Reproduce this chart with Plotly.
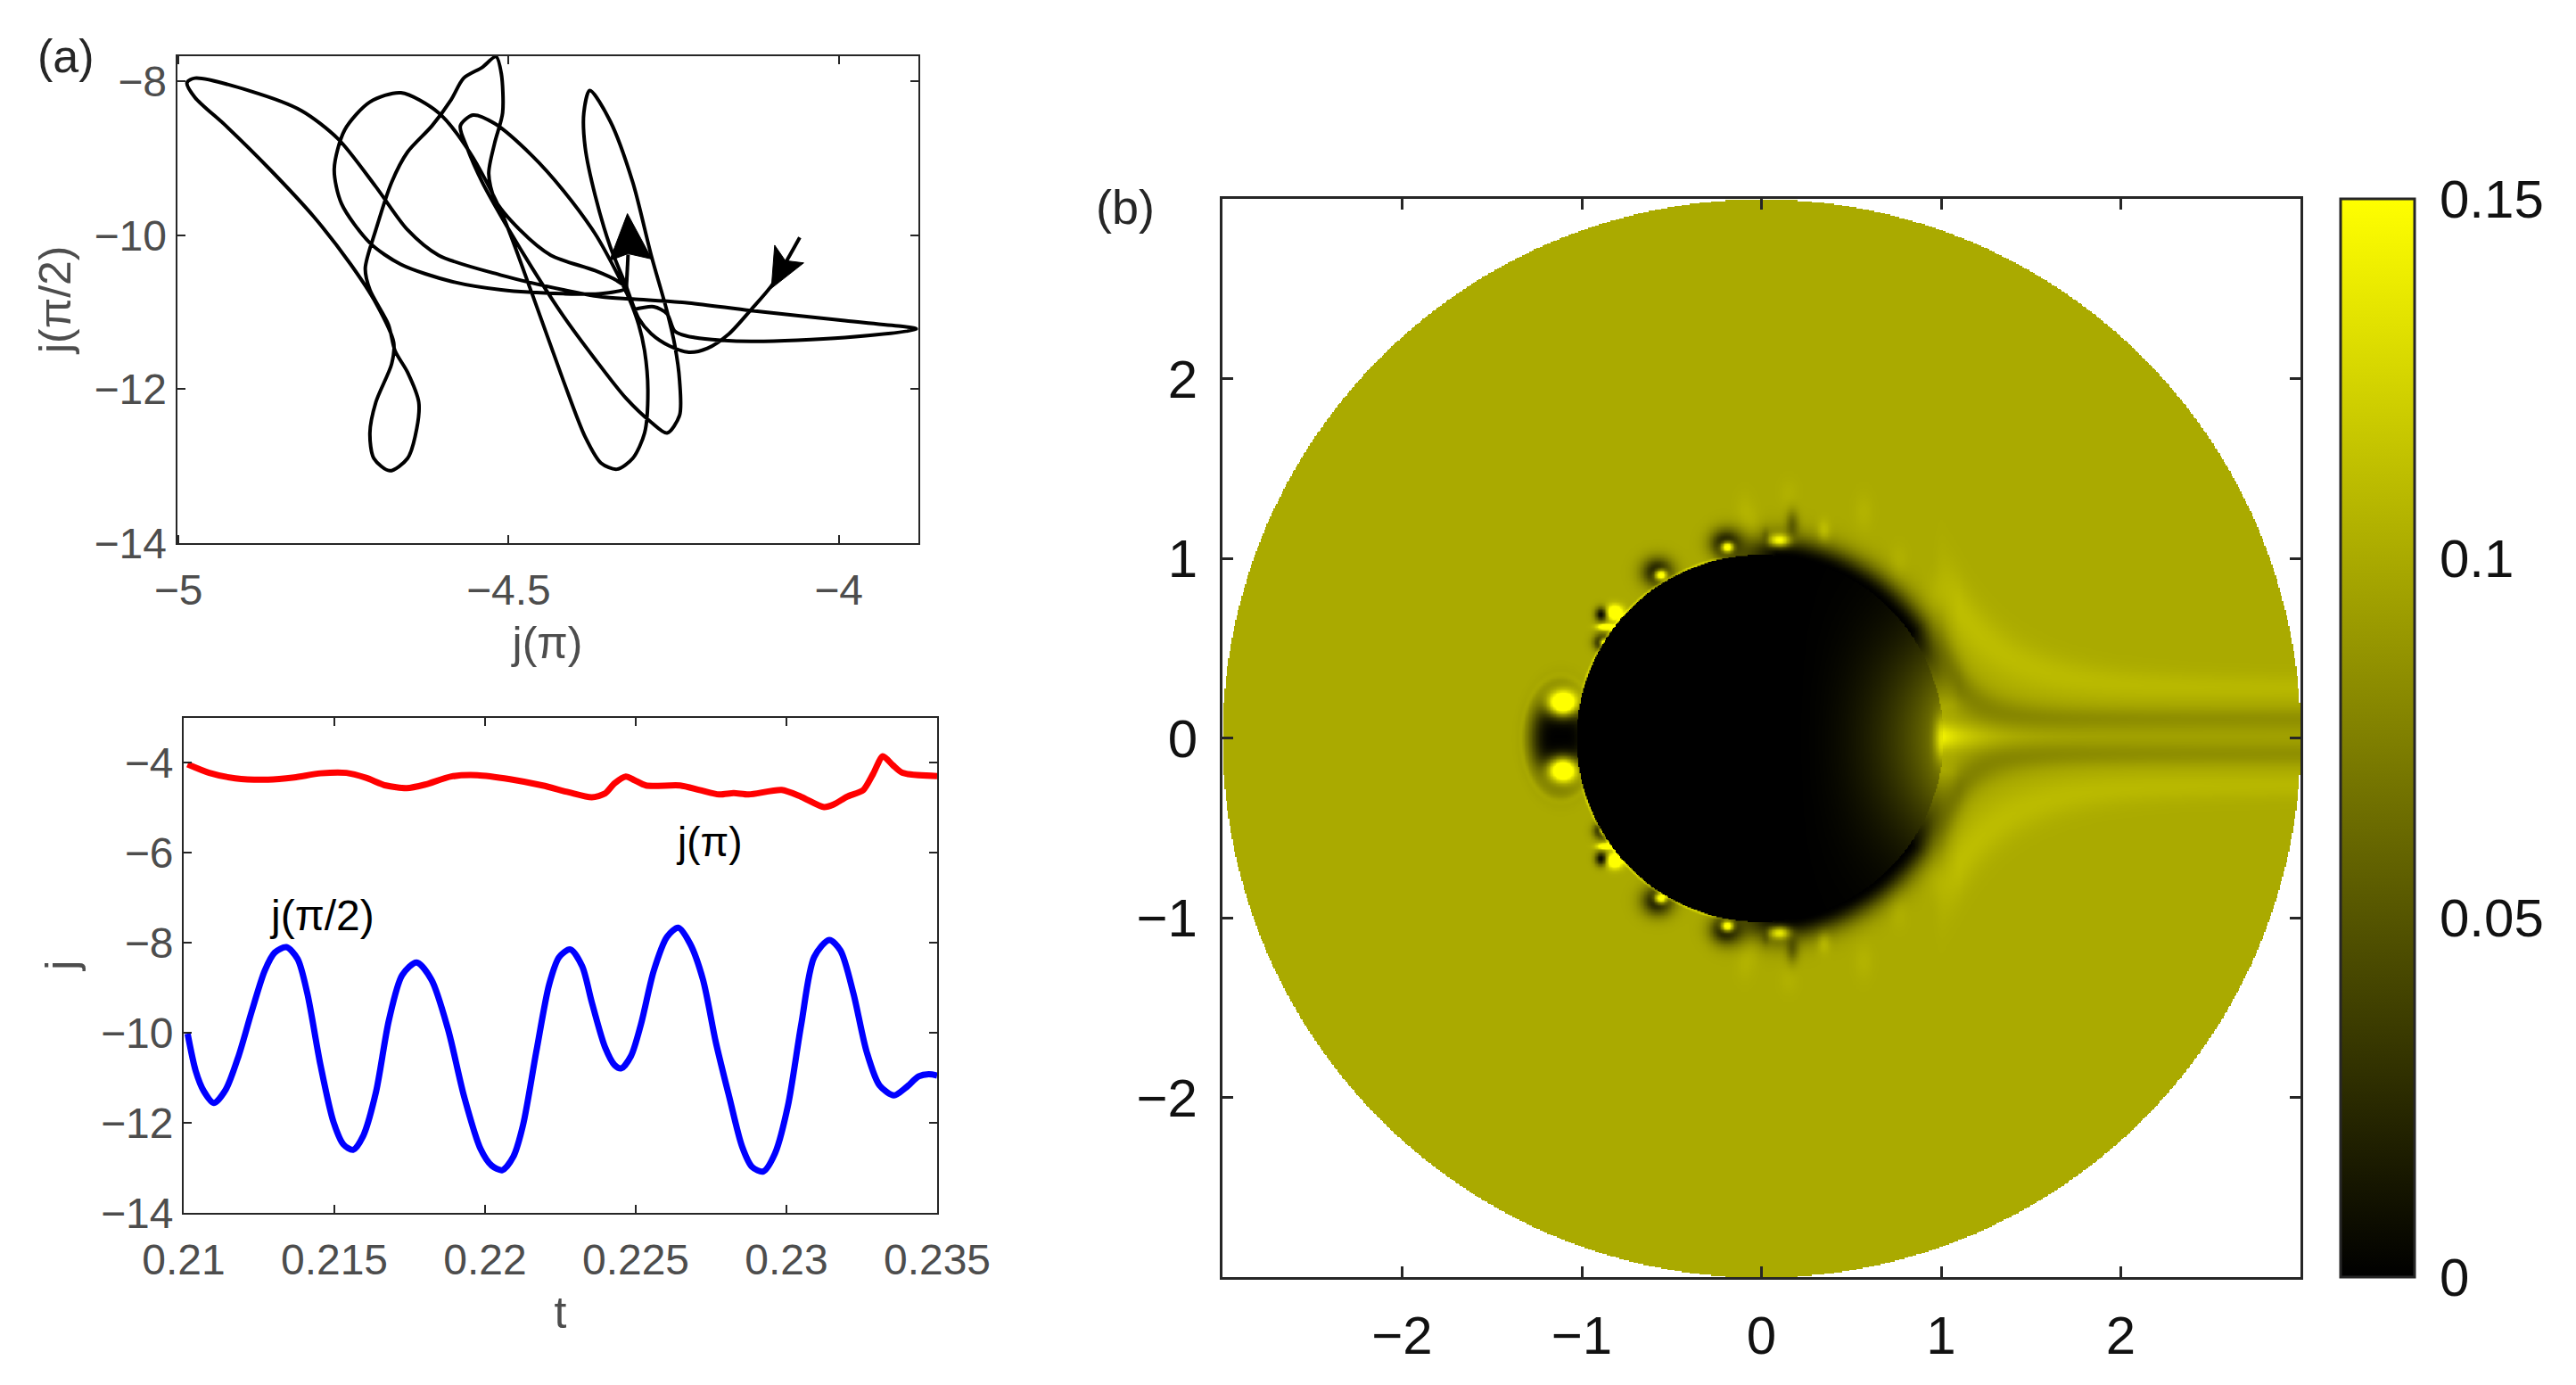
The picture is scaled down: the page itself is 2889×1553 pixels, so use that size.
import numpy as np
import plotly.graph_objects as go

W, H = 2889, 1553

# ---------- panel (a): phase portrait ----------
phase_jpi = [-4.059,-4.078,-4.102,-4.133,-4.166,-4.199,-4.227,-4.256,-4.284,-4.303,-4.314,-4.322,-4.346,-4.369,-4.384,-4.386,-4.377,-4.346,-4.312,-4.284,-4.26,-4.248,-4.241,-4.241,-4.26,-4.284,-4.322,-4.369,-4.417,-4.464,-4.511,-4.54,-4.563,-4.573,-4.554,-4.521,-4.464,-4.417,-4.369,-4.336,-4.317,-4.303,-4.294,-4.289,-4.294,-4.312,-4.336,-4.36,-4.384,-4.417,-4.464,-4.511,-4.559,-4.606,-4.663,-4.71,-4.748,-4.764,-4.753,-4.71,-4.663,-4.587,-4.511,-4.417,-4.36,-4.322,-4.336,-4.369,-4.436,-4.483,-4.521,-4.53,-4.521,-4.509,-4.511,-4.519,-4.54,-4.568,-4.587,-4.616,-4.653,-4.677,-4.701,-4.717,-4.71,-4.682,-4.672,-4.653,-4.636,-4.639,-4.653,-4.68,-4.704,-4.71,-4.701,-4.677,-4.674,-4.701,-4.739,-4.795,-4.862,-4.928,-4.975,-4.987,-4.975,-4.89,-4.814,-4.758,-4.701,-4.653,-4.606,-4.511,-4.417,-4.36,-4.312,-4.227,-4.133,-3.991,-3.882,-3.991,-4.133,-4.218,-4.248,-4.26,-4.28,-4.312]
phase_jpi2 = [-10.03,-10.32,-10.66,-10.97,-11.28,-11.47,-11.52,-11.44,-11.28,-11.08,-10.85,-10.66,-10.15,-9.48,-8.86,-8.41,-8.12,-8.52,-9.31,-10.26,-10.99,-11.44,-11.89,-12.34,-12.57,-12.43,-12.12,-11.61,-11.05,-10.43,-9.76,-9.31,-8.86,-8.58,-8.44,-8.55,-8.97,-9.42,-9.98,-10.49,-10.83,-11.16,-11.5,-12.01,-12.57,-12.9,-13.04,-12.96,-12.62,-11.89,-10.77,-9.70,-8.92,-8.41,-8.15,-8.27,-8.63,-9.14,-9.59,-10.10,-10.38,-10.60,-10.71,-10.76,-10.76,-10.69,-10.59,-10.46,-10.26,-9.93,-9.53,-9.20,-8.80,-8.41,-7.90,-7.68,-7.82,-7.96,-8.24,-8.58,-8.92,-9.31,-9.93,-10.43,-10.71,-11.16,-11.5,-11.78,-12.17,-12.51,-12.90,-13.06,-12.90,-12.57,-12.17,-11.67,-11.39,-10.88,-10.38,-9.76,-9.14,-8.58,-8.21,-8.02,-7.96,-8.13,-8.38,-8.75,-9.37,-9.93,-10.26,-10.52,-10.71,-10.80,-10.83,-10.88,-10.98,-11.11,-11.22,-11.33,-11.38,-11.33,-11.25,-11.02,-10.93,-10.97]

# arrowheads on the phase portrait (data units)
arrow1_x = [-4.32,-4.347,-4.319,-4.283,-4.32]
arrow1_y = [-9.72,-10.33,-10.24,-10.31,-9.72]
arrow1_stem_x = [-4.322,-4.319]
arrow1_stem_y = [-10.75,-10.25]
arrow2_x = [-4.102,-4.097,-4.081,-4.053,-4.102]
arrow2_y = [-10.69,-10.13,-10.33,-10.36,-10.69]

# ---------- lower-left panel: time series ----------
t_blue = [.21013,.2104,.21067,.211,.21139,.21182,.21226,.21269,.21302,.21341,.21378,.2141,.21454,.21497,.2153,.21562,.21595,.21638,.21681,.21725,.21773,.21822,.21877,.21931,.21985,.22022,.22057,.22094,.22126,.2217,.22213,.22246,.22283,.22322,.22354,.22398,.2243,.22452,.22484,.22517,.2256,.22604,.22641,.2268,.22723,.22766,.2281,.22853,.22886,.22923,.22962,.23005,.23049,.23092,.23142,.23179,.23222,.23266,.23309,.23357,.23396,.23439,.23472,.235]
j_blue = [-10.02,-10.85,-11.30,-11.56,-11.27,-10.52,-9.52,-8.62,-8.22,-8.10,-8.36,-9.12,-10.72,-11.98,-12.48,-12.6,-12.30,-11.32,-9.72,-8.72,-8.44,-8.82,-9.92,-11.43,-12.58,-12.95,-13.05,-12.75,-12.05,-10.42,-8.92,-8.32,-8.15,-8.52,-9.32,-10.32,-10.72,-10.79,-10.52,-9.82,-8.62,-7.87,-7.67,-8.02,-8.82,-10.22,-11.42,-12.53,-12.98,-13.08,-12.68,-11.62,-9.82,-8.32,-7.94,-8.17,-9.12,-10.42,-11.17,-11.39,-11.22,-10.97,-10.92,-10.95]
t_red = [.21013,.21085,.21171,.2128,.21367,.21454,.2154,.21605,.21671,.2174,.21801,.21888,.21974,.22083,.22191,.22278,.22354,.22398,.2243,.22467,.22495,.22534,.22647,.22712,.22777,.22825,.22875,.22984,.23049,.23125,.23157,.23201,.23255,.23287,.2332,.23353,.23385,.235]
j_red = [-4.04,-4.23,-4.35,-4.38,-4.33,-4.24,-4.23,-4.34,-4.51,-4.57,-4.49,-4.31,-4.28,-4.37,-4.51,-4.66,-4.77,-4.69,-4.46,-4.31,-4.39,-4.51,-4.51,-4.61,-4.71,-4.68,-4.71,-4.61,-4.76,-4.99,-4.93,-4.76,-4.61,-4.26,-3.86,-4.06,-4.23,-4.3]

# ---------- panel (b): features (mirrored about the wake axis) ----------
# dark patches: x, y, sx, sy, depth
dark_x = [-0.58,-0.20,-0.893,-0.89,0.17,0.02]
dark_y = [0.915,1.075,0.68,0.525,1.18,1.10]
dark_sx = [0.085,0.085,0.035,0.045,0.035,0.02]
dark_sy = [0.078,0.078,0.04,0.045,0.08,0.05]
dark_depth = [0.97,0.95,1.0,1.0,0.4,0.3]
# bright patches: x, y, sx, sy, amplitude
bright_x = [-0.563,-0.192,0.097,-0.819,-0.868,-0.884,-1.108,0.345,0.567,0.76,-0.05,-0.097,0.15,0.97]
bright_y = [0.90,1.055,1.09,0.69,0.61,0.525,0.185,1.14,1.25,0.97,1.15,1.25,1.35,0.80]
bright_sx = [0.034,0.034,0.06,0.045,0.045,0.02,0.08,0.035,0.05,0.05,0.05,0.05,0.05,0.06]
bright_sy = [0.03,0.03,0.036,0.04,0.016,0.022,0.068,0.06,0.10,0.09,0.10,0.10,0.08,0.10]
bright_amp = [0.16,0.16,0.11,0.11,0.12,0.13,0.20,0.018,0.005,0.005,0.008,0.005,0.004,0.004]
# mushroom-shaped cap at the front of the disc
cap_x, cap_y, cap_sx, cap_sy = -1.12, 0.0, 0.175, 0.28

field_base = 0.1
field_max = 0.15
disc_radius = 1.02
domain_radius = 3.0
grid_size = 900

xs = np.linspace(-3, 3, grid_size)
ys = np.linspace(-3, 3, grid_size)
X, Y = np.meshgrid(xs, ys)
Ym = np.abs(Y - 0.01)
R = np.hypot(X + 0.01, Y)
TH = np.degrees(np.abs(np.arctan2(Y, X + 0.01)))
gauss = lambda a, s: np.exp(-(a / s) ** 2)
ramp = lambda a, lo, hi: np.clip((a - lo) / (hi - lo), 0, 1)

v = np.full_like(X, field_base, dtype=float)
Xw = np.maximum(X, 1.0)
wake_fade = ramp(X, 0.95, 1.1)
# dark streaks, bright streaks and centre line of the wake
yd = 0.10 + 0.38 * np.exp(-(Xw - 1.0) / 0.14)
yb = 0.27 + 0.60 * np.exp(-(Xw - 1.0) / 0.30)
sd = 0.06 + 0.10 * np.exp(-(Xw - 1.0) / 0.3)
sb = 0.07 + 0.14 * np.exp(-(Xw - 1.0) / 0.5)
v += wake_fade * (-(0.012 + 0.015 * np.exp(-(Xw - 1) / 0.5))) * gauss(Ym - yd, sd)
v += wake_fade * (0.007 + 0.005 * np.exp(-(Xw - 1) / 1.0)) * gauss(Ym - yb, sb)
v += wake_fade * (-0.005) * gauss(Ym, 0.14)
v += 0.045 * np.exp(-np.maximum(X - 1, 0) / 0.22) * gauss(Y - 0.01, 0.07) * (X > 0.9)

# shadow along the rear of the disc
S = ramp(TH, 10, 35) * (1 - ramp(TH, 85, 105))
v *= 1 - S * np.exp(-(np.maximum(R - disc_radius, 0) / 0.12) ** 2)

# mushroom cap
rho = np.hypot((X - cap_x) / cap_sx, (Y - cap_y) / cap_sy)
v *= 1 - np.exp(-rho ** 4)
v += 0.006 * np.exp(-((rho - 1.25) / 0.08) ** 2) * (X < -0.95)

for x0, y0, sx, sy, d in zip(dark_x, dark_y, dark_sx, dark_sy, dark_depth):
    v *= 1 - d * gauss(X - x0, sx) * gauss(Ym - y0, sy)
for x0, y0, sx, sy, a in zip(bright_x, bright_y, bright_sx, bright_sy, bright_amp):
    v += a * gauss(X - x0, sx) * gauss(Ym - y0, sy)

# thin bright rim on the front of the disc
v += 0.025 * gauss(R - disc_radius - 0.006, 0.006) * ramp(TH, 100, 106) * (1 - ramp(TH, 160, 168))

# inside of the disc
inside = 0.075 * np.clip((X - 0.15) / 0.85, 0, 1) ** 2.2 * gauss(Y, 0.6)
inside += 0.06 * gauss(X - 1.0, 0.04) * gauss(Y, 0.12)
v = np.where(R < disc_radius, inside, v)
v = np.clip(v, 0, field_max)
v[np.hypot(X, Y) > domain_radius] = np.nan
field = v.astype(np.float32)

# ---------- figure ----------
INK = "#262626"
GRAY = "#4d4d4d"
FONT = "Liberation Sans"

def dom_x(a, b):
    return [a / W, b / W]

def dom_y(a, b):
    return [1 - b / H, 1 - a / H]

fig = go.Figure()
fig.add_trace(go.Scatter(x=phase_jpi, y=phase_jpi2, mode="lines", xaxis="x", yaxis="y",
                         line=dict(color="black", width=4, shape="spline", smoothing=0.8),
                         showlegend=False))
fig.add_trace(go.Scatter(x=arrow1_stem_x, y=arrow1_stem_y, mode="lines", xaxis="x", yaxis="y",
                         line=dict(color="black", width=4), showlegend=False))
for ax_, ay_ in ((arrow1_x, arrow1_y), (arrow2_x, arrow2_y)):
    fig.add_trace(go.Scatter(x=ax_, y=ay_, mode="lines", fill="toself", fillcolor="black",
                             xaxis="x", yaxis="y", line=dict(color="black", width=1),
                             showlegend=False))
fig.add_trace(go.Scatter(x=t_red, y=j_red, mode="lines", xaxis="x2", yaxis="y2",
                         line=dict(color="#ff0000", width=7, shape="spline", smoothing=0.7),
                         showlegend=False))
fig.add_trace(go.Scatter(x=t_blue, y=j_blue, mode="lines", xaxis="x2", yaxis="y2",
                         line=dict(color="#0000ff", width=7, shape="spline", smoothing=0.8),
                         showlegend=False))
fig.add_trace(go.Heatmap(x=xs, y=ys, z=field, xaxis="x3", yaxis="y3", zmin=0, zmax=field_max,
                         zsmooth="best", hoverongaps=False,
                         colorscale=[[0, "#000000"], [1, "#ffff00"]],
                         colorbar=dict(x=2625 / W, xanchor="left", xref="container",
                                       y=1 - 223 / H, yanchor="top", yref="container",
                                       len=1209, lenmode="pixels",
                                       thickness=83, thicknessmode="pixels",
                                       xpad=0, ypad=0, outlinecolor=INK, outlinewidth=3,
                                       tickvals=[0, 0.05, 0.1, 0.15],
                                       ticktext=["0", "0.05", "0.1", "0.15"],
                                       ticks="outside", ticklen=15, tickcolor="rgba(0,0,0,0)",
                                       tickfont=dict(family=FONT, size=60, color="#111111"))))

def axis(domain, rng, tickvals, anchor, size, color, lw, ticklen, standoff, **kw):
    return dict(domain=domain, range=rng, tickvals=tickvals, anchor=anchor, showgrid=False,
                zeroline=False, showline=True, linecolor=INK, linewidth=lw, mirror="ticks",
                ticks="inside", ticklen=ticklen, tickwidth=lw, tickcolor=INK, automargin=False,
                ticklabelstandoff=standoff,
                tickfont=dict(family=FONT, size=size, color=color), **kw)

title_a = dict(family=FONT, size=50, color=GRAY)
fig.update_layout(
    width=W, height=H, margin=dict(l=0, r=0, t=0, b=0, autoexpand=False), autosize=False,
    paper_bgcolor="white", plot_bgcolor="white", showlegend=False,
    font=dict(family=FONT, color="black"),
    xaxis=axis(dom_x(198.6, 1029.5), [-5.002, -3.88], [-5, -4.5, -4], "y", 48, GRAY, 2, 9, 9,
               title=dict(text="j(π)", font=title_a, standoff=16)),
    yaxis=axis(dom_y(62.6, 609), [-14, -7.67], [-14, -12, -10, -8], "x", 48, GRAY, 2, 9, 0,
               title=dict(text="j(π/2)", font=title_a, standoff=10)),
    xaxis2=axis(dom_x(206, 1051), [0.21, 0.235], [0.21, 0.215, 0.22, 0.225, 0.23, 0.235], "y2", 48, GRAY, 2, 9, 9,
                title=dict(text="t", font=title_a, standoff=16)),
    yaxis2=axis(dom_y(804.5, 1360), [-14, -3], [-14, -12, -10, -8, -6, -4], "x2", 48, GRAY, 2, 9, 0,
                title=dict(text="j", font=title_a, standoff=10)),
    xaxis3=axis(dom_x(1371, 2580), [-3, 3], [-2, -1, 0, 1, 2], "y3", 60, "#111111", 3, 12, 11),
    yaxis3=axis(dom_y(223, 1432), [-3, 3], [-2, -1, 0, 1, 2], "x3", 60, "#111111", 3, 12, 13),
    annotations=[
        dict(text="(a)", x=74 / W, y=1 - 63 / H, xref="paper", yref="paper", showarrow=False,
             xanchor="center", yanchor="middle", font=dict(family=FONT, size=52, color=INK)),
        dict(text="(b)", x=1262 / W, y=1 - 232 / H, xref="paper", yref="paper", showarrow=False,
             xanchor="center", yanchor="middle", font=dict(family=FONT, size=54, color=INK)),
        dict(text="j(π)", x=0.22745, y=-5.77, xref="x2", yref="y2", showarrow=False,
             font=dict(family=FONT, size=46, color="black")),
        dict(text="j(π/2)", x=0.21458, y=-7.4, xref="x2", yref="y2", showarrow=False,
             font=dict(family=FONT, size=48, color="black")),
    ],
)

fig.write_html("out.html", config=dict(displayModeBar=False),
               post_script="document.body.style.margin='0';document.documentElement.style.overflow='hidden';")
